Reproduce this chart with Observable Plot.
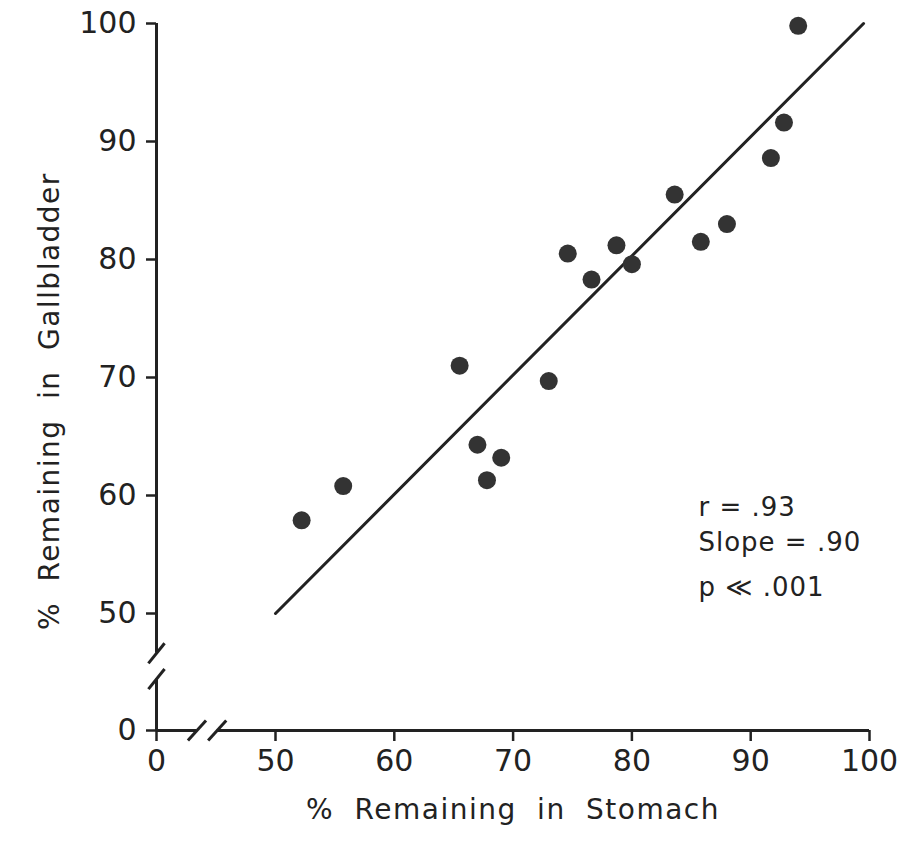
<!DOCTYPE html>
<html>
<head>
<meta charset="utf-8">
<script src="https://cdn.jsdelivr.net/npm/d3@7"></script>
<script src="https://cdn.jsdelivr.net/npm/@observablehq/plot@0.6"></script>
<style>
  body { margin: 0; background: #fff; }
  svg { font-family: "DejaVu Sans", sans-serif; }
</style>
</head>
<body>
<div id="chart"></div>
<script>
// ---- data ----
const stomach     = [52.2, 55.7, 65.5, 67.0, 67.8, 69.0, 73.0, 74.6, 76.6, 78.7, 80.0, 83.6, 85.8, 88.0, 91.7, 92.8, 94.0];
const gallbladder = [57.9, 60.8, 71.0, 64.3, 61.3, 63.2, 69.7, 80.5, 78.3, 81.2, 79.6, 85.5, 81.5, 83.0, 88.6, 91.6, 99.8];
const fitX = [50, 99.5];
const fitY = [50, 100];
const xTicks = [0, 50, 60, 70, 80, 90, 100];
const yTicks = [0, 50, 60, 70, 80, 90, 100];
const xDomain = [0, 50, 100];
const yDomain = [0, 50, 100];
const xBreak = [17, 25.5];   // gap in the x axis (data units)
const yBreak = [22, 33];     // gap in the y axis (data units)
const statLines = ["r = .93", "Slope = .90", "p \u226A .001"];
const statX = 85.6;
const statY = [58.3, 55.3, 51.5];
const xLabel = "% Remaining in Stomach";
const yLabel = "% Remaining in Gallbladder";

// ---- derived tables ----
const points = stomach.map((s, i) => ({s, g: gallbladder[i]}));
const fit = fitX.map((x, i) => ({x, y: fitY[i]}));
const stats = statLines.map((t, i) => ({t, x: statX, y: statY[i]}));
const xSlashes = xBreak.map(b => ({x1: b - 3.8, y1: -4.3, x2: b + 3.8, y2: 4.3}));
const ySlashes = yBreak.map(b => ({x1: -3.4, y1: b - 4.3, x2: 3.4, y2: b + 4.3}));

const W = 914, H = 841;
const mL = 156, mR = 45, mT = 23, mB = 111;
const ink = "#222";

const chart = Plot.plot({
  width: W,
  height: H,
  marginLeft: mL,
  marginRight: mR,
  marginTop: mT,
  marginBottom: mB,
  style: {fontFamily: "DejaVu Sans, sans-serif", color: ink, background: "#fff"},
  x: {type: "linear", domain: xDomain, range: [mL, 275, W - mR]},
  y: {type: "linear", domain: yDomain, range: [H - mB, 613, mT]},
  marks: [
    // axis lines with breaks
    Plot.ruleY([0], {x1: 0, x2: xBreak[0], stroke: ink, strokeWidth: 3}),
    Plot.ruleY([0], {x1: xBreak[1], x2: 100, stroke: ink, strokeWidth: 3}),
    Plot.ruleX([0], {y1: 0, y2: yBreak[0], stroke: ink, strokeWidth: 3}),
    Plot.ruleX([0], {y1: yBreak[1], y2: 100, stroke: ink, strokeWidth: 3}),
    Plot.link(xSlashes, {x1: "x1", y1: "y1", x2: "x2", y2: "y2", stroke: ink, strokeWidth: 3}),
    Plot.link(ySlashes, {x1: "x1", y1: "y1", x2: "x2", y2: "y2", stroke: ink, strokeWidth: 3}),
    // axes
    Plot.axisX({ticks: xTicks, tickSize: 11, tickPadding: 8, fontSize: 30, label: null, strokeWidth: 2.5, tickFormat: d => d}),
    Plot.axisY({ticks: yTicks, tickSize: 10, tickPadding: 10, fontSize: 30, label: null, strokeWidth: 2.5, tickFormat: d => d}),
    // regression line
    Plot.line(fit, {x: "x", y: "y", stroke: ink, strokeWidth: 3}),
    // data points
    Plot.dot(points, {x: "s", y: "g", r: 9, fill: "#333", stroke: "none"}),
    // statistics
    Plot.text(stats, {x: "x", y: "y", text: "t", textAnchor: "start", lineAnchor: "bottom", fontSize: 26, fill: ink}),
    // axis titles
    Plot.text([xLabel], {frameAnchor: "bottom", dy: 80, textAnchor: "middle", lineAnchor: "middle", fontSize: 28, fill: ink}),
    Plot.text([yLabel], {y: [68], frameAnchor: "left", dx: -106, rotate: -90, textAnchor: "middle", lineAnchor: "middle", fontSize: 28, fill: ink})
  ]
});
const svg = d3.select(chart);
svg.selectAll("text")
  .filter(function () { return this.textContent === xLabel || this.textContent === yLabel; })
  .attr("letter-spacing", 1.5).attr("word-spacing", 10);
svg.selectAll("text")
  .filter(function () { return statLines.includes(this.textContent); })
  .attr("letter-spacing", 1);
document.getElementById("chart").appendChild(chart);
</script>
</body>
</html>
